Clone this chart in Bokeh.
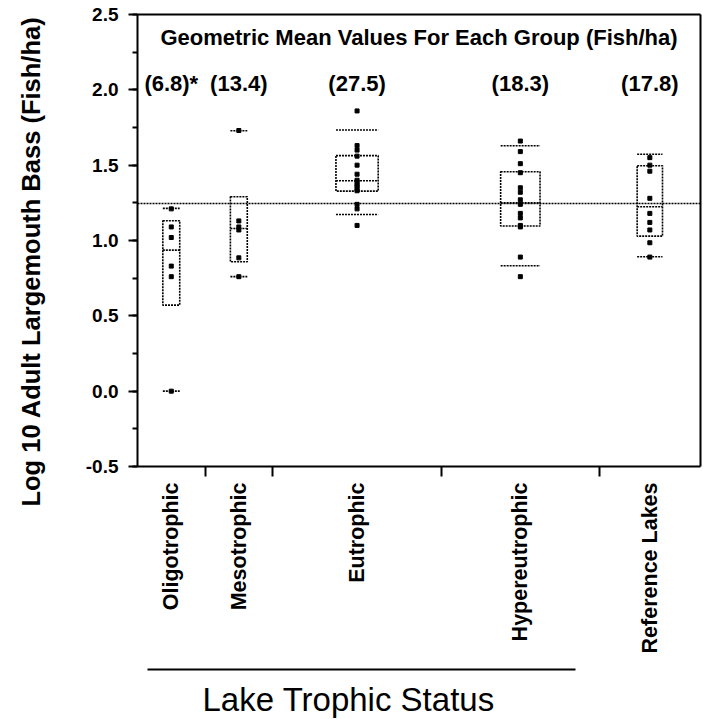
import math
from bokeh.plotting import figure
from bokeh.models import (FixedTicker, LinearAxis, Range1d,
                          SingleIntervalTicker, NumeralTickFormatter)
from bokeh.core.properties import value
from bokeh.embed import file_html
from bokeh.resources import INLINE

# ---------------- data ----------------
groups = ["Oligotrophic", "Mesotrophic", "Eutrophic", "Hypereutrophic", "Reference Lakes"]
geo_means = ["(6.8)*", "(13.4)", "(27.5)", "(18.3)", "(17.8)"]

oligo_pts = [1.21, 1.09, 1.02, 0.83, 0.76, 0.00]
meso_pts = [1.73, 1.13, 1.09, 1.07, 0.885, 0.76]
eutro_pts = [1.86, 1.63, 1.60, 1.56, 1.50, 1.44, 1.40, 1.39, 1.37, 1.36, 1.34, 1.33, 1.24, 1.21, 1.10]
hyper_pts = [1.66, 1.59, 1.51, 1.45, 1.35, 1.32, 1.27, 1.24, 1.18, 1.15, 1.10, 1.09, 0.89, 0.76]
ref_pts = [1.55, 1.50, 1.46, 1.28, 1.18, 1.12, 1.07, 0.985, 0.89]

q10 = [0.00, 0.76, 1.173, 0.832, 0.892]
q25 = [0.571, 0.859, 1.328, 1.096, 1.029]
q50 = [0.936, 1.08, 1.397, 1.25, 1.224]
q75 = [1.131, 1.29, 1.563, 1.456, 1.496]
q90 = [1.213, 1.728, 1.733, 1.629, 1.572]

grand_mean = 1.245

title_text = "Geometric Mean Values For Each Group (Fish/ha)"
y_title = "Log 10 Adult Largemouth Bass (Fish/ha)"
x_title = "Lake Trophic Status"

y_min, y_max, y_step = -0.5, 2.5, 0.5

# ---------------- derived layout ----------------
all_pts = [oligo_pts, meso_pts, eutro_pts, hyper_pts, ref_pts]
counts = [len(v) for v in all_pts]
bounds = [0]
for n in counts:
    bounds.append(bounds[-1] + n)
centers = [(bounds[i] + bounds[i + 1]) / 2 for i in range(len(counts))]
box_w = [0.25 * n for n in counts]
x_min, x_max = bounds[0], bounds[-1]

# canvas and plot-box geometry (pixels)
W, H = 705, 719
FL, FR, FT, FB = 137, 700, 14, 466
ppx = (FR - FL) / (x_max - x_min)
ppy = (FB - FT) / (y_max - y_min)


def X(px):
    return x_min + (px - FL) / ppx


def Y(py):
    return y_max - (py - FT) / ppy


FONT = "Liberation Sans"
LC = "black"
DASH = "2 1"

p = figure(width=W, height=H,
           x_range=Range1d(X(0), X(W)), y_range=Range1d(Y(H), Y(0)),
           output_backend="svg", toolbar_location=None,
           x_axis_location=None, y_axis_location=None,
           min_border=0, min_border_left=0, min_border_right=0,
           min_border_top=0, min_border_bottom=0)
p.grid.visible = False
p.outline_line_color = None
p.background_fill_color = "white"
p.border_fill_color = "white"

# ---- axes / frame box ----
ya = LinearAxis(fixed_location=x_min, bounds=(y_min, y_max),
                ticker=SingleIntervalTicker(interval=y_step, num_minor_ticks=2),
                formatter=NumeralTickFormatter(format="0.0"))
ya.axis_line_width = 2
ya.axis_line_color = "black"
ya.major_tick_out = 9
ya.major_tick_in = 0
ya.minor_tick_out = 5
ya.minor_tick_in = 0
ya.major_tick_line_width = 2
ya.minor_tick_line_width = 2
ya.major_label_standoff = 10
ya.major_label_text_font = FONT
ya.major_label_text_font_style = "bold"
ya.major_label_text_font_size = "19px"
ya.major_label_text_color = "black"
p.add_layout(ya, "left")

xa = LinearAxis(fixed_location=y_min, bounds=(x_min, x_max),
                ticker=FixedTicker(ticks=[], minor_ticks=bounds[1:-1]))
xa.axis_line_width = 2
xa.axis_line_color = "black"
xa.major_tick_line_color = None
xa.minor_tick_line_color = "black"
xa.minor_tick_line_width = 2
xa.minor_tick_out = 10
xa.minor_tick_in = 0
xa.major_label_text_font_size = "0px"
p.add_layout(xa, "below")

for side, loc, bnd in (("above", y_max, (x_min, x_max)), ("right", x_max, (y_min, y_max))):
    ax = LinearAxis(fixed_location=loc, bounds=bnd, ticker=FixedTicker(ticks=[]))
    ax.axis_line_width = 2
    ax.axis_line_color = "black"
    ax.major_tick_line_color = None
    ax.minor_tick_line_color = None
    ax.major_label_text_font_size = "0px"
    p.add_layout(ax, side)

# ---- grand mean line ----
p.segment(x0=[x_min], x1=[x_max], y0=[grand_mean], y1=[grand_mean],
          line_color=LC, line_width=1.5, line_dash=DASH)

# ---- quantile boxes ----
lefts = [c - w / 2 for c, w in zip(centers, box_w)]
rights = [c + w / 2 for c, w in zip(centers, box_w)]
p.quad(left=lefts, right=rights, bottom=q25, top=q75, fill_color=None,
       line_color=LC, line_width=1.6, line_dash=DASH)
for q in (q10, q50, q90):
    p.segment(x0=lefts, x1=rights, y0=q, y1=q, line_color=LC,
              line_width=1.6, line_dash=DASH)

# ---- points ----
xs, ys = [], []
for c, pts in zip(centers, all_pts):
    xs += [c] * len(pts)
    ys += pts
p.scatter(x=xs, y=ys, marker="square", size=4, color="black")

# ---- texts ----
bold = dict(text_font=value(FONT), text_font_style="bold", color="black")
p.text(x=[(x_min + x_max) / 2], y=[Y(37)], text=[title_text], text_font_size="22px",
       text_align="center", text_baseline="middle", **bold)
p.text(x=centers, y=[Y(83)] * len(centers), text=geo_means, text_font_size="22px",
       text_align="center", text_baseline="middle", **bold)

# category names, reading bottom-to-top, ends aligned under the axis
p.text(x=centers, y=[Y(482)] * len(centers), text=groups, angle=math.pi / 2,
       text_font_size="21.5px", text_align="right", text_baseline="middle", **bold)

# y axis title
p.text(x=[X(30)], y=[Y(261)], text=[y_title], angle=math.pi / 2,
       text_font_size="25.5px", text_align="center", text_baseline="middle", **bold)

# x axis title with its rule
p.segment(x0=[X(147)], x1=[X(575)], y0=[Y(669)], y1=[Y(669)],
          line_color="black", line_width=2)
p.text(x=[X(202)], y=[Y(699)], text=[x_title], text_font=value(FONT),
       text_font_style="normal", text_font_size="33px", color="black",
       text_align="left", text_baseline="middle")

open("out.html", "w").write(file_html(p, INLINE))
